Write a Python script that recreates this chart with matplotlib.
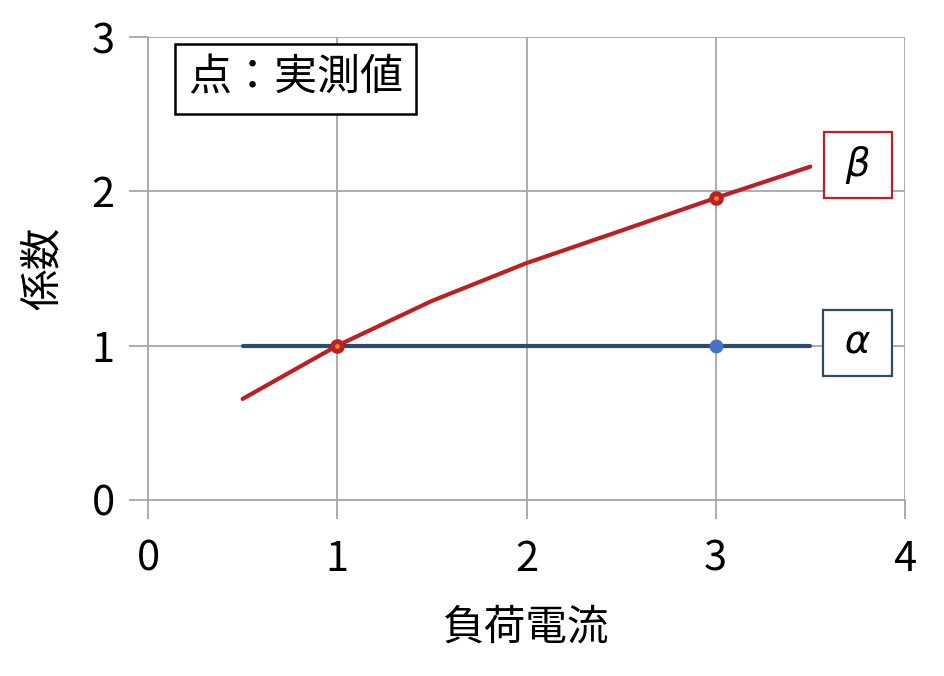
import matplotlib
matplotlib.use("Agg")
import matplotlib.pyplot as plt

plt.rcParams["font.family"] = ["Noto Sans CJK JP", "DejaVu Sans"]

# データ
current = [0.5, 1.0, 1.5, 2.0, 2.5, 3.0, 3.5]
beta = [0.655, 1.0, 1.29, 1.535, 1.745, 1.957, 2.16]
alpha = [1.0, 1.0, 1.0, 1.0, 1.0, 1.0, 1.0]

# 実測点
meas_beta_x = [1.0, 3.0]
meas_beta_y = [1.0, 1.957]
meas_alpha_x = [3.0]
meas_alpha_y = [1.0]

x_ticks = [0, 1, 2, 3, 4]
y_ticks = [0, 1, 2, 3]

RED = "#BC2025"
NAVY = "#2F4B66"
BLUE = "#4472C4"
GRID = "#A6A6A6"

fig = plt.figure(figsize=(9.45, 6.76), dpi=100)
ax = fig.add_axes([148 / 945, 176 / 676, 757 / 945, 463 / 676])

ax.plot(current, alpha, color=NAVY, lw=3.0, solid_capstyle="round", zorder=3)
ax.plot(current, beta, color=RED, lw=3.0, solid_capstyle="round", zorder=4)
ax.plot(meas_alpha_x, meas_alpha_y, "o", color=BLUE, ms=9, zorder=5)
ax.plot(meas_beta_x, meas_beta_y, "o", mfc="#F08A30", mec=RED, ms=7, mew=3.5, zorder=6)

ax.set_xlim(0, 4)
ax.set_ylim(0, 3)
ax.set_xticks(x_ticks)
ax.set_yticks(y_ticks)
ax.grid(True, color=GRID, lw=1.3)
ax.set_axisbelow(True)
for s in ["top", "right"]:
    ax.spines[s].set_visible(False)
for s in ["left", "bottom"]:
    ax.spines[s].set_color(GRID)
    ax.spines[s].set_linewidth(1.3)
ax.tick_params(direction="out", length=14, width=1.3, color=GRID,
               labelsize=30, pad=10)
ax.tick_params(axis="x", pad=14)

ax.set_xlabel("負荷電流", fontsize=30, labelpad=20)
ax.set_ylabel("係数", fontsize=30, labelpad=20)

# ラベル
ax.text(3.75, 2.17, "\u2009β\u2009", fontsize=28, style="italic", family="DejaVu Sans",
        ha="center", va="center",
        bbox=dict(boxstyle="square,pad=0.36", fc="white", ec=RED, lw=1.6))
ax.text(3.75, 1.02, "\u2009α\u2009", fontsize=28, style="italic", family="DejaVu Sans",
        ha="center", va="center",
        bbox=dict(boxstyle="square,pad=0.36", fc="white", ec=NAVY, lw=1.6))
ax.text(0.78, 2.73, "点：実測値", fontsize=31, ha="center", va="center",
        bbox=dict(boxstyle="square,pad=0.3", fc="white", ec="black", lw=1.8))

fig.savefig("out.png", dpi=100)
